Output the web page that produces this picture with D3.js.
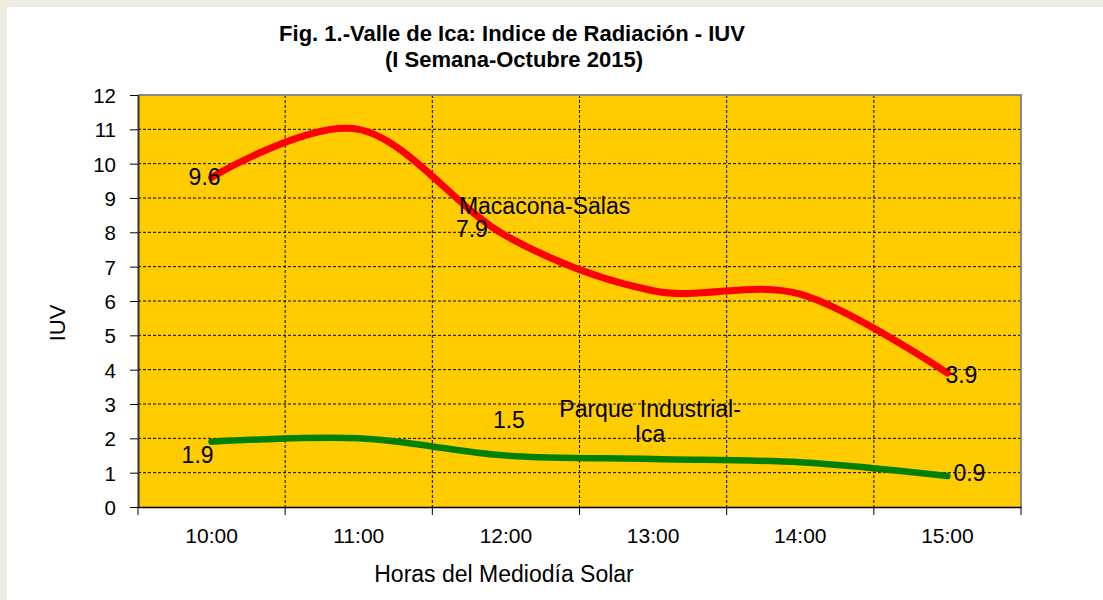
<!DOCTYPE html>
<html>
<head>
<meta charset="utf-8">
<script src="https://cdn.jsdelivr.net/npm/d3@7"></script>
<style>
  html, body { margin: 0; padding: 0; background: #eeece1; }
  svg { display: block; }
  text { font-family: "Liberation Sans", Arial, sans-serif; fill: #000; }
</style>
</head>
<body>
<div class="chart"></div>
<script>
// data
var horas = ["10:00", "11:00", "12:00", "13:00", "14:00", "15:00"];
var macacona = [9.6, 11.0, 7.9, 6.3, 6.2, 3.9];
var parque = [1.9, 2.0, 1.5, 1.4, 1.3, 0.9];
var yTicks = [0, 1, 2, 3, 4, 5, 6, 7, 8, 9, 10, 11, 12];

var svgWidth = 1103;
var svgHeight = 600;

var margin = { top: 95, right: 82, bottom: 93, left: 138 };
var width = svgWidth - margin.left - margin.right;
var height = svgHeight - margin.top - margin.bottom;

var svg = d3.select(".chart")
    .append("svg")
    .attr("width", svgWidth)
    .attr("height", svgHeight);

// white sheet on the beige slide
svg.append("rect")
    .attr("x", 7).attr("y", 7)
    .attr("width", svgWidth - 7).attr("height", svgHeight - 7)
    .attr("fill", "#fff");

// title
svg.append("text")
    .attr("x", 512).attr("y", 41)
    .attr("text-anchor", "middle")
    .attr("font-weight", "bold")
    .attr("font-size", 22)
    .text("Fig. 1.-Valle de Ica: Indice de Radiación - IUV");
svg.append("text")
    .attr("x", 514).attr("y", 67)
    .attr("text-anchor", "middle")
    .attr("font-weight", "bold")
    .attr("font-size", 22)
    .text("(I Semana-Octubre 2015)");

var chartGroup = svg.append("g")
    .attr("transform", `translate(${margin.left}, ${margin.top})`);

var xScale = d3.scaleBand()
    .domain(horas)
    .range([0, width])
    .padding(0);

var yScale = d3.scaleLinear()
    .domain([0, 12])
    .range([height, 0]);

var cx = d => xScale(d) + xScale.bandwidth() / 2;

// plot area
chartGroup.append("rect")
    .attr("width", width)
    .attr("height", height)
    .attr("fill", "#ffcc00");

// horizontal grid
chartGroup.selectAll(".hgrid")
    .data(yTicks.filter(d => d > 0 && d < 12))
    .enter()
    .append("line")
    .attr("x1", 0).attr("x2", width)
    .attr("y1", d => yScale(d)).attr("y2", d => yScale(d))
    .attr("stroke", "#000")
    .attr("stroke-width", 1)
    .attr("stroke-dasharray", "3,2");

// vertical grid at category boundaries
chartGroup.selectAll(".vgrid")
    .data(horas.slice(1))
    .enter()
    .append("line")
    .attr("x1", d => xScale(d)).attr("x2", d => xScale(d))
    .attr("y1", 0).attr("y2", height)
    .attr("stroke", "#000")
    .attr("stroke-width", 1)
    .attr("stroke-dasharray", "3,2");

// top and right border
chartGroup.append("path")
    .attr("d", `M0,0H${width}V${height}`)
    .attr("fill", "none")
    .attr("stroke", "#888")
    .attr("stroke-width", 2);

// y axis
var leftAxis = d3.axisLeft(yScale)
    .tickValues(yTicks)
    .tickSize(8)
    .tickSizeOuter(0)
    .tickPadding(14)
    .tickFormat(d3.format("d"));

var yAxis = chartGroup.append("g").call(leftAxis);
yAxis.select(".domain").attr("stroke", "#333").attr("stroke-width", 2);
yAxis.selectAll(".tick line").attr("stroke", "#000");
yAxis.selectAll("text").attr("font-size", 20.5).attr("font-family", null).attr("dy", "0.36em");

// x axis: labels at band centers, ticks at boundaries
var bottomAxis = d3.axisBottom(xScale).tickSize(0).tickPadding(21);
var xAxis = chartGroup.append("g")
    .attr("transform", `translate(0, ${height})`)
    .call(bottomAxis);
xAxis.select(".domain").attr("stroke", "#000").attr("stroke-width", 1.5);
xAxis.selectAll("text").attr("font-size", 21).attr("font-family", null);

xAxis.selectAll(".btick")
    .data(horas.map(d => xScale(d)).concat([width]))
    .enter()
    .append("line")
    .attr("x1", d => d).attr("x2", d => d)
    .attr("y1", 0).attr("y2", 8)
    .attr("stroke", "#000");

// lines
var line = d3.line()
    .x((d, i) => cx(horas[i]))
    .y(d => yScale(d))
    .curve(d3.curveCardinal.tension(0));

chartGroup.append("path")
    .datum(parque)
    .attr("d", line)
    .attr("fill", "none")
    .attr("stroke", "#008000")
    .attr("stroke-width", 6.5)
    .attr("stroke-linecap", "round");

chartGroup.append("path")
    .datum(macacona)
    .attr("d", line)
    .attr("fill", "none")
    .attr("stroke", "#ff0000")
    .attr("stroke-width", 7)
    .attr("stroke-linecap", "round");

// data labels (offsets in px from the point)
var labels = [
    { v: macacona[0], i: 0, dx: 9, dy: 8, anchor: "end" },
    { v: macacona[2], i: 2, dx: -18, dy: 1, anchor: "end" },
    { v: macacona[5], i: 5, dx: -2, dy: 10, anchor: "start" },
    { v: parque[0], i: 0, dx: 2, dy: 21, anchor: "end" },
    { v: parque[2], i: 2, dx: 3, dy: -28, anchor: "middle" },
    { v: parque[5], i: 5, dx: 6, dy: 5, anchor: "start" }
];

chartGroup.selectAll(".dlabel")
    .data(labels)
    .enter()
    .append("text")
    .attr("x", d => cx(horas[d.i]) + d.dx)
    .attr("y", d => yScale(d.v) + d.dy)
    .attr("text-anchor", d => d.anchor)
    .attr("font-size", 23)
    .text(d => d.v.toFixed(1));

// series names
chartGroup.append("text")
    .attr("x", cx(horas[2]) - 47)
    .attr("y", yScale(macacona[2]) - 22)
    .attr("font-size", 23)
    .text("Macacona-Salas");

var pname = chartGroup.append("text")
    .attr("x", cx(horas[3]) - 3)
    .attr("y", yScale(parque[3]) - 42)
    .attr("text-anchor", "middle")
    .attr("font-size", 23);
pname.append("tspan").text("Parque Industrial-");
pname.append("tspan").attr("x", cx(horas[3]) - 3).attr("dy", 25).text("Ica");

// axis titles
svg.append("text")
    .attr("transform", "translate(65, 323) rotate(-90)")
    .attr("text-anchor", "middle")
    .attr("font-size", 22)
    .text("IUV");

svg.append("text")
    .attr("x", 504).attr("y", 582)
    .attr("text-anchor", "middle")
    .attr("font-size", 23)
    .text("Horas del Mediodía Solar");
</script>
</body>
</html>
